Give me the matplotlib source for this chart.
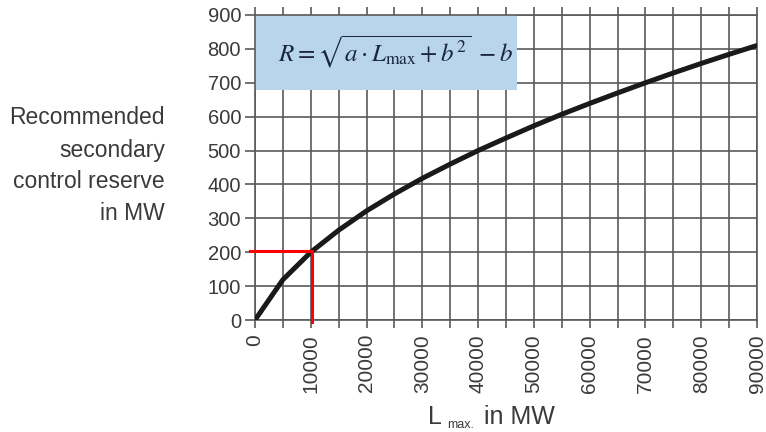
import matplotlib
matplotlib.use("Agg")
import matplotlib.pyplot as plt
from matplotlib.patches import Rectangle
from matplotlib.ticker import MultipleLocator

# Data
L_max = [0, 5000, 10000, 15000, 20000, 25000, 30000, 35000, 40000, 45000,
         50000, 55000, 60000, 65000, 70000, 75000, 80000, 85000, 90000]
reserve = [0, 119, 200, 265, 322, 372, 418, 460, 500, 537,
           573, 607, 639, 670, 700, 729, 757, 784, 810]
x_ticks = [0, 10000, 20000, 30000, 40000, 50000, 60000, 70000, 80000, 90000]
y_ticks = [0, 100, 200, 300, 400, 500, 600, 700, 800, 900]
marker_L = 10000
marker_R = 200

plt.rcParams['font.family'] = ['Liberation Sans', 'DejaVu Sans']

txt = '#3a3a3a'
gridc = '#5a5a5a'

fig = plt.figure(figsize=(7.66, 4.32), dpi=100)
ax = fig.add_axes([255/766, 1-320/432, 502/766, 305/432])

ax.set_xlim(0, 90000)
ax.set_ylim(0, 900)
ax.set_xticks(x_ticks)
ax.xaxis.set_minor_locator(MultipleLocator(5000))
ax.set_yticks(y_ticks)
ax.set_xticklabels([str(v) for v in x_ticks], rotation=90)
ax.tick_params(axis='x', which='both', direction='out', length=6, width=1.2,
               color=gridc, labelsize=15, labelcolor=txt, top=True, pad=4)
ax.tick_params(axis='y', which='both', direction='out', length=7, width=1.2,
               color=gridc, labelsize=14.5, labelcolor=txt, pad=3)
ax.grid(True, which='both', color=gridc, linewidth=1.2)
ax.set_axisbelow(True)
for s in ax.spines.values():
    s.set_color(gridc)
    s.set_linewidth(1.2)

# formula box
ax.add_patch(Rectangle((0, 680/900), 0.522, 1 - 680/900, transform=ax.transAxes,
                       facecolor='#b8d5ec', edgecolor='none', zorder=2))
ax.text(0.28, 0.88, r'$R = \sqrt{a\cdot L_{\mathrm{max}} + b^{2}}\ - b$', transform=ax.transAxes,
        ha='center', va='center', fontsize=18, color='#1c2540', math_fontfamily='stix',
        zorder=3)

ax.plot(L_max, reserve, color='#1a1a1a', linewidth=3.6, solid_capstyle='round', zorder=4)

ax.plot([-900, marker_L], [marker_R + 5, marker_R + 5], color='#ff0000', linewidth=2.2,
        clip_on=False, zorder=5)
ax.plot([marker_L + 200, marker_L + 200], [marker_R + 5, -5], color='#ff0000', linewidth=2.2,
        clip_on=False, zorder=5)

fig.text(165/766, 1-166/432, 'Recommended\nsecondary\ncontrol reserve\nin MW',
         ha='right', va='center', fontsize=16.5, color=txt, linespacing=1.5)

fig.text(428/766, 1-424/432, 'L', ha='left', va='baseline', fontsize=18, color=txt)
fig.text(447/766, 1-428/432, 'max.', ha='left', va='baseline', fontsize=9, color=txt)
fig.text(484/766, 1-424/432, 'in MW', ha='left', va='baseline', fontsize=18, color=txt)

fig.savefig('out.png', dpi=100)
